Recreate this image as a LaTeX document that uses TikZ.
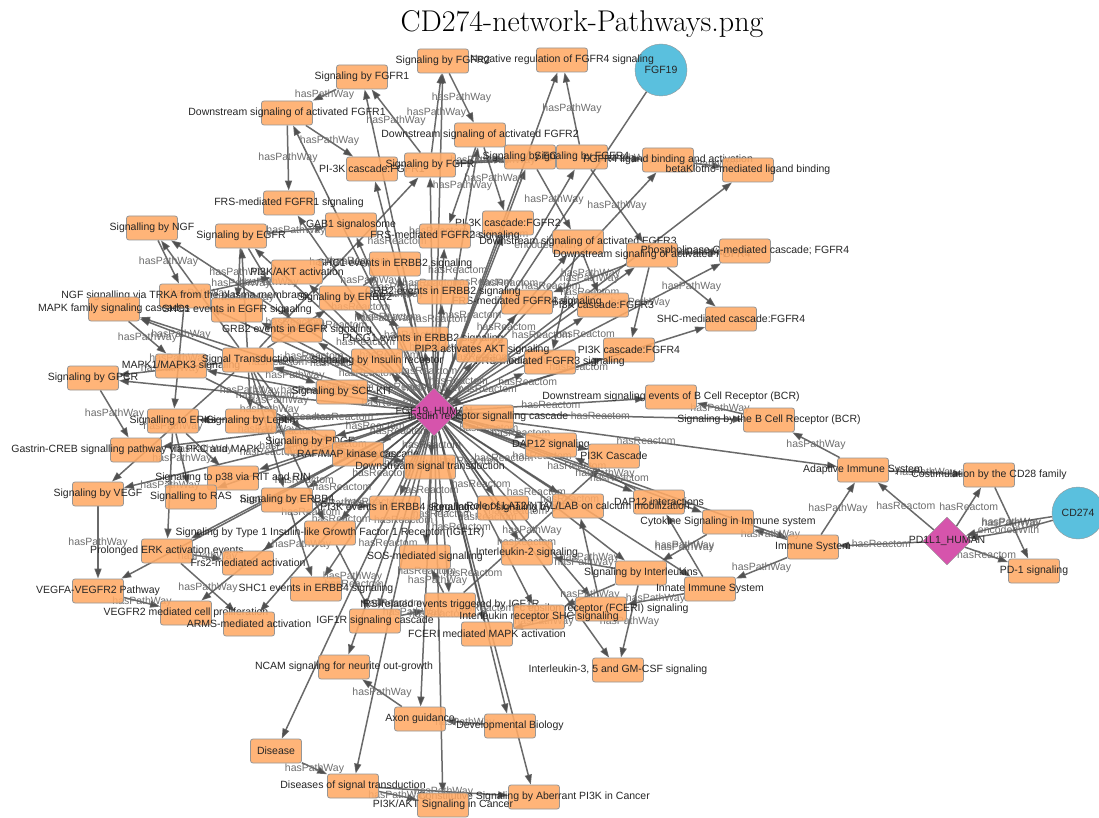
\documentclass[tikz,border=0pt]{standalone}
\usepackage{fontspec}
\newfontfamily\arialf{Liberation Sans}
\usetikzlibrary{shapes.geometric,arrows.meta}
\definecolor{boxorange}{RGB}{255,170,102}
\definecolor{boxline}{RGB}{150,150,150}
\definecolor{hubpink}{RGB}{214,84,172}
\definecolor{genecyan}{RGB}{90,192,222}
\definecolor{edgegray}{RGB}{80,80,80}
\definecolor{elabel}{RGB}{110,110,110}
\pgfdeclarelayer{bg}
\pgfsetlayers{bg,main}
\tikzset{
  pbox/.style={rectangle, rounded corners=2.5pt, draw=boxline, line width=0.8pt,
    fill=boxorange, fill opacity=0.88, minimum width=51pt, minimum height=24pt, inner sep=0pt},
  lbl/.style={font=\arialf\fontsize{10.5}{12}\selectfont, text=black!85, text opacity=1, inner sep=0pt},
  hubnode/.style={diamond, draw=boxline, fill=hubpink, minimum width=48pt, minimum height=48pt, inner sep=0pt},
  gene/.style={circle, draw=boxline, fill=genecyan, minimum size=52pt, inner sep=0pt},
  link/.style={draw=edgegray, line width=1.5pt, draw opacity=0.85,
    -{Triangle[length=10pt,width=7pt]}},
  elbl/.style={font=\arialf\fontsize{10.5}{12}\selectfont, text=elabel, inner sep=0pt}
}
\begin{document}
\begin{tikzpicture}[x=1pt,y=-1pt]
\useasboundingbox (0,0) rectangle (1099,818);
\clip (0,0) rectangle (1099,818);
\begin{pgfonlayer}{bg}
\fill[white] (0,0) rectangle (1099,818);
\end{pgfonlayer}

\node[font=\fontsize{30}{34}\selectfont] (title) at (582,24) {CD274-network-Pathways.png};

% gene and protein nodes
\node[gene, label={[lbl]center:FGF19}] (fgf) at (661,70) {};
\node[gene, label={[lbl]center:CD274}] (cd) at (1078,513) {};
\node[hubnode, label={[lbl]center:FGF19\_HUMAN}] (hub) at (434,412) {};
\node[hubnode, label={[lbl]center:PD1L1\_HUMAN}] (pdl) at (947,541) {};

% FGFR pathways
\node[pbox, label={[lbl]center:Signaling by FGFR1}] (fgfrone) at (362,77) {};
\node[pbox, label={[lbl]center:Signaling by FGFR2}] (fgfrtwo) at (443,61) {};
\node[pbox, label={[lbl]center:Negative regulation of FGFR4 signaling}] (negfour) at (562,60) {};
\node[pbox, label={[lbl]center:Downstream signaling of activated FGFR1}] (dsone) at (287,113) {};
\node[pbox, label={[lbl]center:Downstream signaling of activated FGFR2}] (dstwo) at (480,135) {};
\node[pbox, label={[lbl]center:PI-3K cascade:FGFR1}] (pikone) at (372,169) {};
\node[pbox, label={[lbl]center:Signaling by FGFR}] (fgfr) at (430,165) {};
\node[pbox, label={[lbl]center:Signaling by FGFR3}] (fgfrthree) at (530,157) {};
\node[pbox, label={[lbl]center:Signaling by FGFR4}] (fgfrfour) at (582,157) {};
\node[pbox, label={[lbl]center:FGFR4 ligand binding and activation}] (ligand) at (668,160) {};
\node[pbox, label={[lbl]center:betaKlotho-mediated ligand binding}] (klotho) at (748,170) {};
\node[pbox, label={[lbl]center:FRS-mediated FGFR1 signaling}] (frsone) at (289,203) {};
\node[pbox, label={[lbl]center:GAB1 signalosome}] (gab) at (351,225) {};
\node[pbox, label={[lbl]center:PI-3K cascade:FGFR2}] (piktwo) at (508,223) {};
\node[pbox, label={[lbl]center:FRS-mediated FGFR2 signaling}] (frstwo) at (445,236) {};
\node[pbox, label={[lbl]center:Downstream signaling of activated FGFR3}] (dsthree) at (578,242) {};
\node[pbox, label={[lbl]center:Downstream signaling of activated FGFR4}] (dsfour) at (652,255) {};
\node[pbox, label={[lbl]center:Phospholipase C-mediated cascade; FGFR4}] (plcfour) at (745,251) {};
\node[pbox, label={[lbl]center:SHC-mediated cascade:FGFR4}] (shcfour) at (731,319) {};
\node[pbox, label={[lbl]center:PI3K cascade:FGFR4}] (pikfour) at (629,350) {};
\node[pbox, label={[lbl]center:PI3K cascade:FGFR3}] (pikthree) at (603,305) {};
\node[pbox, label={[lbl]center:FRS-mediated FGFR4 signaling}] (frsfour) at (527,302) {};
\node[pbox, label={[lbl]center:FRS-mediated FGFR3 signaling}] (frsthree) at (550,362) {};

% receptor tyrosine kinase pathways
\node[pbox, label={[lbl]center:Signalling by NGF}] (ngf) at (152,228) {};
\node[pbox, label={[lbl]center:Signaling by EGFR}] (egfr) at (241,236) {};
\node[pbox, label={[lbl]center:SHC1 events in ERBB2 signaling}] (shcerbb) at (395,264) {};
\node[pbox, label={[lbl]center:PI3K/AKT activation}] (pakt) at (297,272) {};
\node[pbox, label={[lbl]center:GRB2 events in ERBB2 signaling}] (grberbb) at (443,292) {};
\node[pbox, label={[lbl]center:Signaling by ERBB2}] (erbbtwo) at (345,298) {};
\node[pbox, label={[lbl]center:NGF signalling via TRKA from the plasma membrane}] (trka) at (185,296) {};
\node[pbox, label={[lbl]center:MAPK family signaling cascades}] (mapkfam) at (114,309) {};
\node[pbox, label={[lbl]center:SHC1 events in EGFR signaling}] (shcegfr) at (237,310) {};
\node[pbox, label={[lbl]center:GRB2 events in EGFR signaling}] (grbegfr) at (297,330) {};
\node[pbox, label={[lbl]center:PLCG1 events in ERBB2 signaling}] (plcg) at (423,339) {};
\node[pbox, label={[lbl]center:PIP3 activates AKT signaling}] (pip) at (482,350) {};
\node[pbox, label={[lbl]center:Signaling by Insulin receptor}] (insulin) at (377,361) {};
\node[pbox, label={[lbl]center:MAPK1/MAPK3 signaling}] (mapkk) at (181,366) {};
\node[pbox, label={[lbl]center:Signal Transduction}] (sigtrans) at (248,360) {};
\node[pbox, label={[lbl]center:Signaling by GPCR}] (gpcr) at (93,378) {};
\node[pbox, label={[lbl]center:Signaling by SCF-KIT}] (scf) at (342,392) {};
\node[pbox, label={[lbl]center:Insulin receptor signalling cascade}] (irc) at (488,417) {};
\node[pbox, label={[lbl]center:Signalling to ERKs}] (erks) at (173,421) {};
\node[pbox, label={[lbl]center:Signaling by Leptin}] (leptin) at (251,421) {};
\node[pbox, label={[lbl]center:Signaling by PDGF}] (pdgf) at (310,442) {};
\node[pbox, label={[lbl]center:Gastrin-CREB signalling pathway via PKC and MAPK}] (gastrin) at (136,450) {};
\node[pbox, label={[lbl]center:RAF/MAP kinase cascade}] (raf) at (358,454) {};
\node[pbox, label={[lbl]center:Downstream signal transduction}] (dsst) at (430,467) {};
\node[pbox, label={[lbl]center:Signalling to p38 via RIT and RIN}] (ptrit) at (233,478) {};
\node[pbox, label={[lbl]center:Signaling by VEGF}] (vegf) at (98,494) {};
\node[pbox, label={[lbl]center:Signalling to RAS}] (ras) at (191,497) {};
\node[pbox, label={[lbl]center:Signaling by ERBB4}] (erbbfour) at (287,500) {};
\node[pbox, label={[lbl]center:PI3K events in ERBB4 signaling}] (pierbb) at (395,508) {};
\node[pbox, label={[lbl]center:Regulation of signaling by CBL}] (cbl) at (503,508) {};
\node[pbox, label={[lbl]center:Signaling by Type 1 Insulin-like Growth Factor 1 Receptor (IGF1R)}] (igfr) at (330,533) {};
\node[pbox, label={[lbl]center:Prolonged ERK activation events}] (prolonged) at (167,551) {};
\node[pbox, label={[lbl]center:Frs2-mediated activation}] (frsact) at (248,563) {};
\node[pbox, label={[lbl]center:SOS-mediated signalling}] (sos) at (425,557) {};
\node[pbox, label={[lbl]center:SHC1 events in ERBB4 signaling}] (shcerbbf) at (316,589) {};
\node[pbox, label={[lbl]center:VEGFA-VEGFR2 Pathway}] (vegfa) at (98,591) {};
\node[pbox, label={[lbl]center:VEGFR2 mediated cell proliferation}] (vegfrtwo) at (186,613) {};
\node[pbox, label={[lbl]center:ARMS-mediated activation}] (arms) at (249,624) {};
\node[pbox, label={[lbl]center:IRS-related events triggered by IGF1R}] (irs) at (450,605) {};
\node[pbox, label={[lbl]center:IGF1R signaling cascade}] (igfcascade) at (375,621) {};

% immune system pathways
\node[pbox, label={[lbl]center:Downstream signaling events of B Cell Receptor (BCR)}] (bcrds) at (671,397) {};
\node[pbox, label={[lbl]center:Signaling by the B Cell Receptor (BCR)}] (bcr) at (769,420) {};
\node[pbox, label={[lbl]center:DAP12 signaling}] (dapsig) at (551,445) {};
\node[pbox, label={[lbl]center:PI3K Cascade}] (pikcascade) at (614,456) {};
\node[pbox, label={[lbl]center:Adaptive Immune System}] (adaptive) at (863,470) {};
\node[pbox, label={[lbl]center:Costimulation by the CD28 family}] (cdte) at (989,475) {};
\node[pbox, label={[lbl]center:DAP12 interactions}] (dapint) at (659,502) {};
\node[pbox, label={[lbl]center:Role of LAT2/NTAL/LAB on calcium mobilization}] (lat) at (578,506) {};
\node[pbox, label={[lbl]center:Cytokine Signaling in Immune system}] (cytokine) at (728,522) {};
\node[pbox, label={[lbl]center:Immune System}] (immune) at (813,547) {};
\node[pbox, label={[lbl]center:Interleukin-2 signaling}] (iltwo) at (527,553) {};
\node[pbox, label={[lbl]center:PD-1 signaling}] (pdone) at (1034,571) {};
\node[pbox, label={[lbl]center:Signaling by Interleukins}] (interleukins) at (641,573) {};
\node[pbox, label={[lbl]center:Innate Immune System}] (innate) at (710,589) {};
\node[pbox, label={[lbl]center:Fc epsilon receptor (FCERI) signaling}] (fceri) at (601,609) {};
\node[pbox, label={[lbl]center:Interleukin receptor SHC signaling}] (ilshc) at (539,617) {};
\node[pbox, label={[lbl]center:FCERI mediated MAPK activation}] (fcerimapk) at (487,634) {};
\node[pbox, label={[lbl]center:Interleukin-3, 5 and GM-CSF signaling}] (ilthree) at (618,670) {};

% development and disease
\node[pbox, label={[lbl]center:NCAM signaling for neurite out-growth}] (ncam) at (344,667) {};
\node[pbox, label={[lbl]center:Axon guidance}] (axon) at (420,719) {};
\node[pbox, label={[lbl]center:Developmental Biology}] (devbio) at (510,726) {};
\node[pbox, label={[lbl]center:Disease}] (disease) at (276,751) {};
\node[pbox, label={[lbl]center:Diseases of signal transduction}] (dst) at (353,786) {};
\node[pbox, label={[lbl]center:Constitutive Signaling by Aberrant PI3K in Cancer}] (aberrant) at (534,797) {};
\node[pbox, label={[lbl]center:PI3K/AKT Signaling in Cancer}] (pikcancer) at (443,805) {};

\begin{pgfonlayer}{bg}
% protein to pathway links
\foreach \t in {fgfrone,fgfrtwo,negfour,dsone,dstwo,pikone,fgfr,fgfrthree,fgfrfour,ligand,klotho,
  frsone,gab,piktwo,frstwo,dsthree,dsfour,plcfour,shcfour,pikfour,pikthree,frsfour,frsthree,
  ngf,egfr,shcerbb,pakt,grberbb,erbbtwo,trka,mapkfam,shcegfr,grbegfr,plcg,pip,insulin,mapkk,
  sigtrans,gpcr,scf,irc,erks,leptin,pdgf,gastrin,raf,dsst,ptrit,vegf,ras,erbbfour,pierbb,cbl,
  igfr,prolonged,frsact,sos,shcerbbf,vegfa,vegfrtwo,arms,irs,igfcascade,
  bcrds,bcr,dapsig,pikcascade,adaptive,dapint,lat,cytokine,immune,iltwo,interleukins,innate,
  fceri,ilshc,fcerimapk,ilthree,ncam,axon,devbio,disease,dst,aberrant,pikcancer}
  \draw[link] (hub) -- node[elbl]{hasReactom} (\t);
\foreach \t in {adaptive,cdte,immune,pdone}
  \draw[link] (pdl) -- node[elbl]{hasReactom} (\t);
% pathway hierarchy
\foreach \a/\b in {sigtrans/fgfr,sigtrans/egfr,sigtrans/erbbtwo,sigtrans/erbbfour,sigtrans/ngf,
  sigtrans/mapkfam,sigtrans/gpcr,sigtrans/vegf,sigtrans/leptin,sigtrans/pdgf,sigtrans/scf,
  sigtrans/insulin,sigtrans/igfr,
  fgfr/fgfrone,fgfr/fgfrtwo,fgfr/fgfrthree,fgfr/fgfrfour,
  fgfrone/dsone,dsone/pikone,dsone/frsone,
  fgfrtwo/dstwo,dstwo/piktwo,dstwo/frstwo,
  fgfrthree/dsthree,dsthree/pikthree,dsthree/frsthree,
  fgfrfour/dsfour,fgfrfour/negfour,fgfrfour/ligand,ligand/klotho,
  dsfour/plcfour,dsfour/shcfour,dsfour/pikfour,dsfour/frsfour,
  egfr/shcegfr,egfr/grbegfr,egfr/gab,
  erbbtwo/shcerbb,erbbtwo/grberbb,erbbtwo/plcg,
  erbbfour/pierbb,erbbfour/shcerbbf,
  ngf/trka,trka/erks,trka/pakt,erks/ras,erks/ptrit,erks/prolonged,
  prolonged/frsact,prolonged/arms,
  mapkfam/mapkk,mapkk/raf,gpcr/gastrin,vegf/vegfa,vegfa/vegfrtwo,
  pdgf/dsst,insulin/irc,igfr/igfcascade,igfcascade/irs,irs/sos,irs/pikcascade,
  immune/adaptive,immune/innate,immune/cytokine,
  adaptive/bcr,adaptive/cdte,bcr/bcrds,cdte/pdone,
  innate/dapint,innate/fceri,dapint/dapsig,fceri/fcerimapk,fceri/lat,
  cytokine/interleukins,interleukins/iltwo,interleukins/ilthree,interleukins/ilshc,
  devbio/axon,axon/ncam,disease/dst,dst/pikcancer,dst/aberrant}
  \draw[link] (\a) -- node[elbl]{hasPathWay} (\b);
% gene to protein links
\draw[link] (fgf) -- node[elbl]{encodedWith} (hub);
\draw[link] (cd) to[bend left=4] node[elbl, above=1pt]{hasPathWay} (pdl);
\draw[link] (cd) to[bend right=4] node[elbl, below=1pt]{encodedWith} (pdl);
\end{pgfonlayer}
\end{tikzpicture}
\end{document}
